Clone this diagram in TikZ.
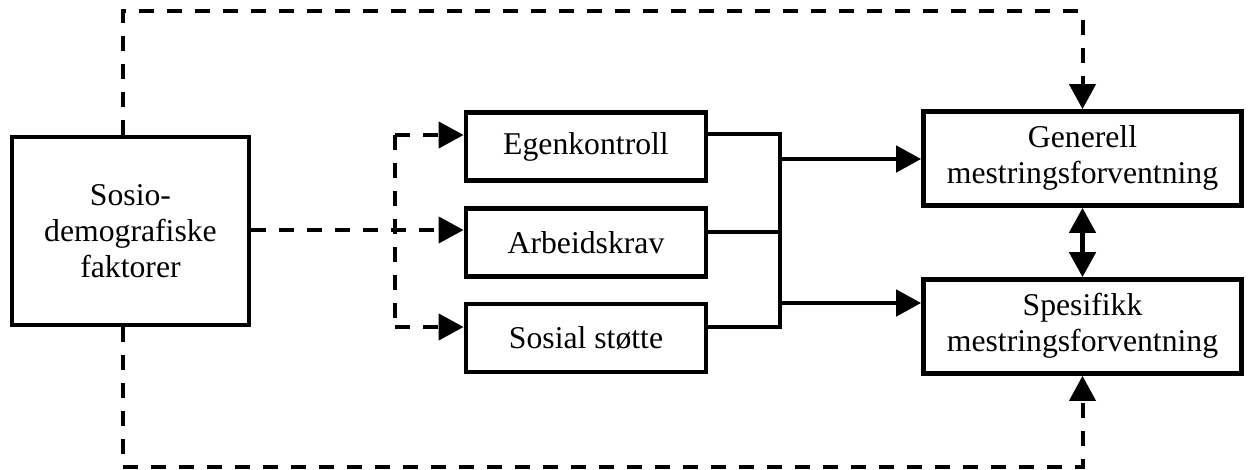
\documentclass[tikz,border=0pt]{standalone}
\usepackage{fontspec}
\setmainfont{Liberation Serif}
\usetikzlibrary{arrows.meta,calc}
\newcommand{\twoline}[2]{\raisebox{-6pt}{\begin{tabular}{@{}c@{}}#1\\#2\end{tabular}}}
\begin{document}
\begin{tikzpicture}[x=1pt,y=-1pt,
  box/.style={draw,line width=4.7pt,rectangle,inner sep=0pt,align=center,
    font=\fontsize{31.7}{36}\selectfont},
  conn/.style={line width=4.7pt},
  dconn/.style={line width=4pt,dash pattern=on 15pt off 13pt},
  tip/.style={-{Triangle[length=25pt,width=26pt]}},
  both/.style={{Triangle[length=25pt,width=26pt]}-{Triangle[length=25pt,width=26pt]}}]
\useasboundingbox (0,0) rectangle (1253,470);
\node[box,minimum width=237pt,minimum height=188pt] (lb) at (130.5,231) {Sosio-\\demografiske\\faktorer};
\node[box,minimum width=240pt,minimum height=68pt] (ego) at (586,146.5) {Egenkontroll};
\node[box,minimum width=240pt,minimum height=68pt] (arb) at (586,242.5) {Arbeidskrav};
\node[box,minimum width=240pt,minimum height=68pt] (sos) at (586,338) {Sosial støtte};
\node[box,minimum width=318pt,minimum height=94pt] (gen) at (1082.5,158.5) {\twoline{Generell}{mestringsforventning}};
\node[box,minimum width=318pt,minimum height=94pt] (spe) at (1082.5,326.5) {\twoline{Spesifikk}{mestringsforventning}};
% dashed branches to middle boxes
\coordinate (d1) at (395,135);
\coordinate (d3) at (395,327);
\draw[dconn] (d1) -- (d3);
\draw[dconn,tip] (d1) -- (d1 -| ego.west);
\draw[dconn,tip] (d3) -- (d3 -| sos.west);
\draw[dconn,tip] (lb.east |- 0,230) -- (arb.west |- 0,230);
% solid merging lines
\coordinate (m1) at (780,134);
\coordinate (m3) at (780,327);
\draw[conn] (ego.east |- m1) -- (m1) -- (m3) -- (sos.east |- m3);
\draw[conn] (arb.east |- 0,232) -- (780,232);
\coordinate (g1) at (780,159);
\coordinate (s1) at (780,303);
\draw[conn,tip] (g1) -- (g1 -| gen.west);
\draw[conn,tip] (s1) -- (s1 -| spe.west);
\draw[conn,both] (gen.south) -- (spe.north);
% outer dashed loops
\coordinate (t1) at (123,11);
\coordinate (t2) at (1082.5,11);
\draw[dconn,tip] (t1 |- lb.north) -- (t1) -- (t2) -- (gen.north);
\coordinate (b1) at (123,467);
\coordinate (b2) at (1082.5,467);
\draw[dconn,tip] (b1 |- lb.south) -- (b1) -- (b2) -- (spe.south);
\end{tikzpicture}
\end{document}
